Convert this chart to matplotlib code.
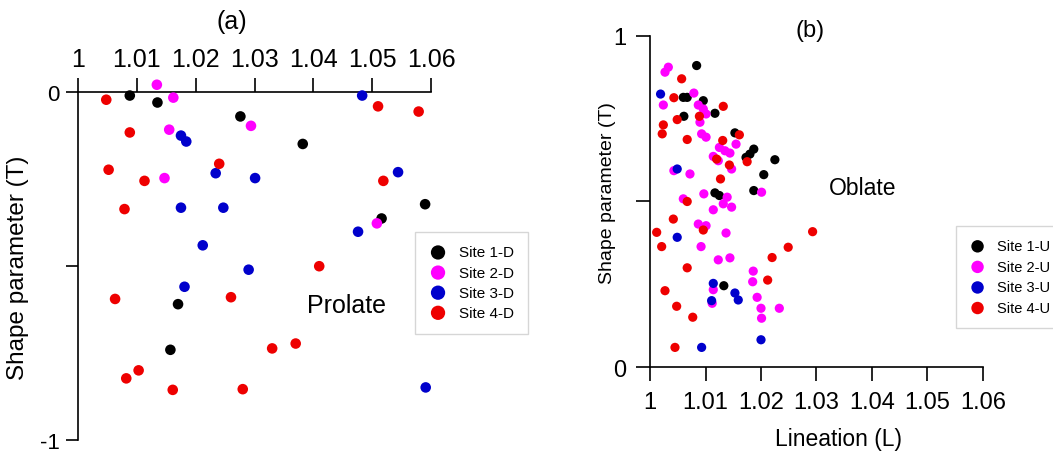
import numpy as np
import matplotlib.pyplot as plt

plt.rcParams['font.family'] = ['Liberation Sans', 'DejaVu Sans']

# colours of the sites
site_colors = ['black', '#ff00ff', '#0000cc', '#ee0000']

# (a) downstream sites: lineation L and shape parameter T
a_labels = ['Site 1-D', 'Site 2-D', 'Site 3-D', 'Site 4-D']
a1_L = [1.0088, 1.0135, 1.0276, 1.0382, 1.0590, 1.0516, 1.0170, 1.0157]
a1_T = [-0.011, -0.031, -0.071, -0.150, -0.323, -0.364, -0.610, -0.741]
a2_L = [1.0134, 1.0162, 1.0294, 1.0155, 1.0147, 1.0508]
a2_T = [0.020, -0.017, -0.098, -0.109, -0.248, -0.378]
a3_L = [1.0483, 1.0175, 1.0184, 1.0234, 1.0301, 1.0544, 1.0175, 1.0247,
        1.0476, 1.0212, 1.0290, 1.0181, 1.0591]
a3_T = [-0.011, -0.126, -0.143, -0.234, -0.248, -0.231, -0.333, -0.333,
        -0.402, -0.441, -0.511, -0.560, -0.849]
a4_L = [1.0048, 1.0510, 1.0579, 1.0088, 1.0240, 1.0052, 1.0113, 1.0519,
        1.0079, 1.0410, 1.0063, 1.0260, 1.0330, 1.0370, 1.0103, 1.0082,
        1.0161, 1.0280]
a4_T = [-0.023, -0.042, -0.057, -0.117, -0.207, -0.224, -0.256, -0.256,
        -0.337, -0.501, -0.595, -0.590, -0.737, -0.723, -0.800, -0.823,
        -0.856, -0.854]

# (b) upstream sites
b_labels = ['Site 1-U', 'Site 2-U', 'Site 3-U', 'Site 4-U']
b1_L = [1.0084, 1.0060, 1.0067, 1.0096, 1.0117, 1.0061, 1.0153, 1.0187,
        1.0180, 1.0173, 1.0225, 1.0205, 1.0187, 1.0117, 1.0125, 1.0133]
b1_T = [0.910, 0.814, 0.814, 0.804, 0.766, 0.757, 0.707, 0.658,
        0.643, 0.633, 0.626, 0.581, 0.533, 0.526, 0.518, 0.246]
b2_L = [1.0027, 1.0033, 1.0079, 1.0024, 1.0087, 1.0096, 1.0101, 1.0090,
        1.0093, 1.0101, 1.0125, 1.0135, 1.0144, 1.0155, 1.0114, 1.0123,
        1.0147, 1.0043, 1.0072, 1.0201, 1.0097, 1.0139, 1.0132, 1.0147,
        1.0114, 1.0060, 1.0087, 1.0101, 1.0137, 1.0092, 1.0123, 1.0144,
        1.0186, 1.0185, 1.0114, 1.0112, 1.0193, 1.0200, 1.0201, 1.0233]
b2_T = [0.890, 0.905, 0.827, 0.791, 0.791, 0.779, 0.764, 0.739,
        0.704, 0.694, 0.663, 0.653, 0.646, 0.673, 0.636, 0.623,
        0.598, 0.593, 0.583, 0.528, 0.523, 0.513, 0.493, 0.483,
        0.475, 0.508, 0.432, 0.427, 0.405, 0.364, 0.324, 0.330,
        0.290, 0.258, 0.234, 0.193, 0.211, 0.178, 0.148, 0.178]
b3_L = [1.0019, 1.0049, 1.0049, 1.0114, 1.0153, 1.0159, 1.0111, 1.0200,
        1.0093]
b3_T = [0.824, 0.598, 0.392, 0.253, 0.224, 0.203, 0.201, 0.083, 0.060]
b4_L = [1.0057, 1.0043, 1.0132, 1.0049, 1.0089, 1.0024, 1.0022, 1.0067,
        1.0161, 1.0131, 1.0175, 1.0120, 1.0143, 1.0127, 1.0067, 1.0042,
        1.0012, 1.0096, 1.0021, 1.0067, 1.0249, 1.0220, 1.0212, 1.0027,
        1.0048, 1.0077, 1.0045, 1.0293]
b4_T = [0.870, 0.813, 0.787, 0.747, 0.757, 0.731, 0.704, 0.687,
        0.701, 0.684, 0.620, 0.628, 0.610, 0.568, 0.500, 0.447,
        0.407, 0.414, 0.364, 0.300, 0.362, 0.331, 0.263, 0.231,
        0.184, 0.151, 0.060, 0.409]

ticks_L = [1, 1.01, 1.02, 1.03, 1.04, 1.05, 1.06]
ticklabels_L = ['1', '1.01', '1.02', '1.03', '1.04', '1.05', '1.06']

fig = plt.figure(figsize=(10.53, 4.52), dpi=100)

# ---- panel (a)
axa = fig.add_axes([0.0741, 0.0243, 0.3352, 0.7706])
for L, T, c, lab in zip([a1_L, a2_L, a3_L, a4_L], [a1_T, a2_T, a3_T, a4_T],
                        site_colors, a_labels):
    axa.scatter(L, T, s=58, color=c, edgecolors='none', label=lab, clip_on=False, zorder=3)
axa.set_xlim(1, 1.06)
axa.set_ylim(-1, 0)
axa.xaxis.tick_top()
axa.set_xticks(ticks_L)
axa.set_xticklabels(ticklabels_L)
axa.set_yticks([-1, -0.5, 0])
axa.set_yticklabels(['-1', '', '0'])
axa.spines['right'].set_visible(False)
axa.spines['bottom'].set_visible(False)
axa.tick_params(axis='x', direction='out', length=10, width=1.2, labelsize=18, pad=5)
axa.tick_params(axis='y', direction='out', length=9, width=1.2, labelsize=16, pad=4)
for s in ['left', 'top']:
    axa.spines[s].set_linewidth(1.2)
axa.set_ylabel('Shape parameter (T)', fontsize=17.5)
axa.yaxis.set_label_coords(-0.139, 0.497)
axa.text(1.0457, -0.612, 'Prolate', fontsize=18, ha='center', va='center')
axa.legend(loc='upper left', bbox_to_anchor=(0.955, 0.598), borderaxespad=0,
           fontsize=11, frameon=True, fancybox=False, edgecolor='#cccccc',
           markerscale=1.35, handletextpad=0.8, borderpad=0.9, labelspacing=0.4,
           handlelength=1.2)
fig.text(0.2203, 0.951, '(a)', fontsize=18, ha='center', va='center')

# ---- panel (b)
axb = fig.add_axes([0.6173, 0.1852, 0.3162, 0.7336])
for L, T, c, lab in zip([b1_L, b2_L, b3_L, b4_L], [b1_T, b2_T, b3_T, b4_T],
                        site_colors, b_labels):
    axb.scatter(L, T, s=44, color=c, edgecolors='none', label=lab, clip_on=False, zorder=3)
axb.set_xlim(1, 1.06)
axb.set_ylim(0, 1)
axb.set_xticks(ticks_L)
axb.set_xticklabels(ticklabels_L)
axb.set_yticks([0, 0.5, 1])
axb.set_yticklabels(['0', '', '1'])
axb.spines['right'].set_visible(False)
axb.spines['top'].set_visible(False)
axb.tick_params(direction='out', length=10, width=1.2, labelsize=17, pad=7)
for s in ['left', 'bottom']:
    axb.spines[s].set_linewidth(1.2)
axb.set_xlabel('Lineation (L)', fontsize=16.5)
axb.xaxis.set_label_coords(0.565, -0.18)
axb.set_ylabel('Shape parameter (T)', fontsize=14)
axb.yaxis.set_label_coords(-0.102, 0.529)
axb.text(1.0384, 0.541, 'Oblate', fontsize=16.5, ha='center', va='center')
axb.legend(loc='upper left', bbox_to_anchor=(0.918, 0.426), borderaxespad=0,
           fontsize=10.5, frameon=True, fancybox=False, edgecolor='#cccccc',
           markerscale=1.35, handletextpad=0.7, borderpad=0.9, labelspacing=0.45,
           handlelength=1.2)
fig.text(0.769, 0.931, '(b)', fontsize=17, ha='center', va='center')

fig.savefig('out.png', dpi=100)
